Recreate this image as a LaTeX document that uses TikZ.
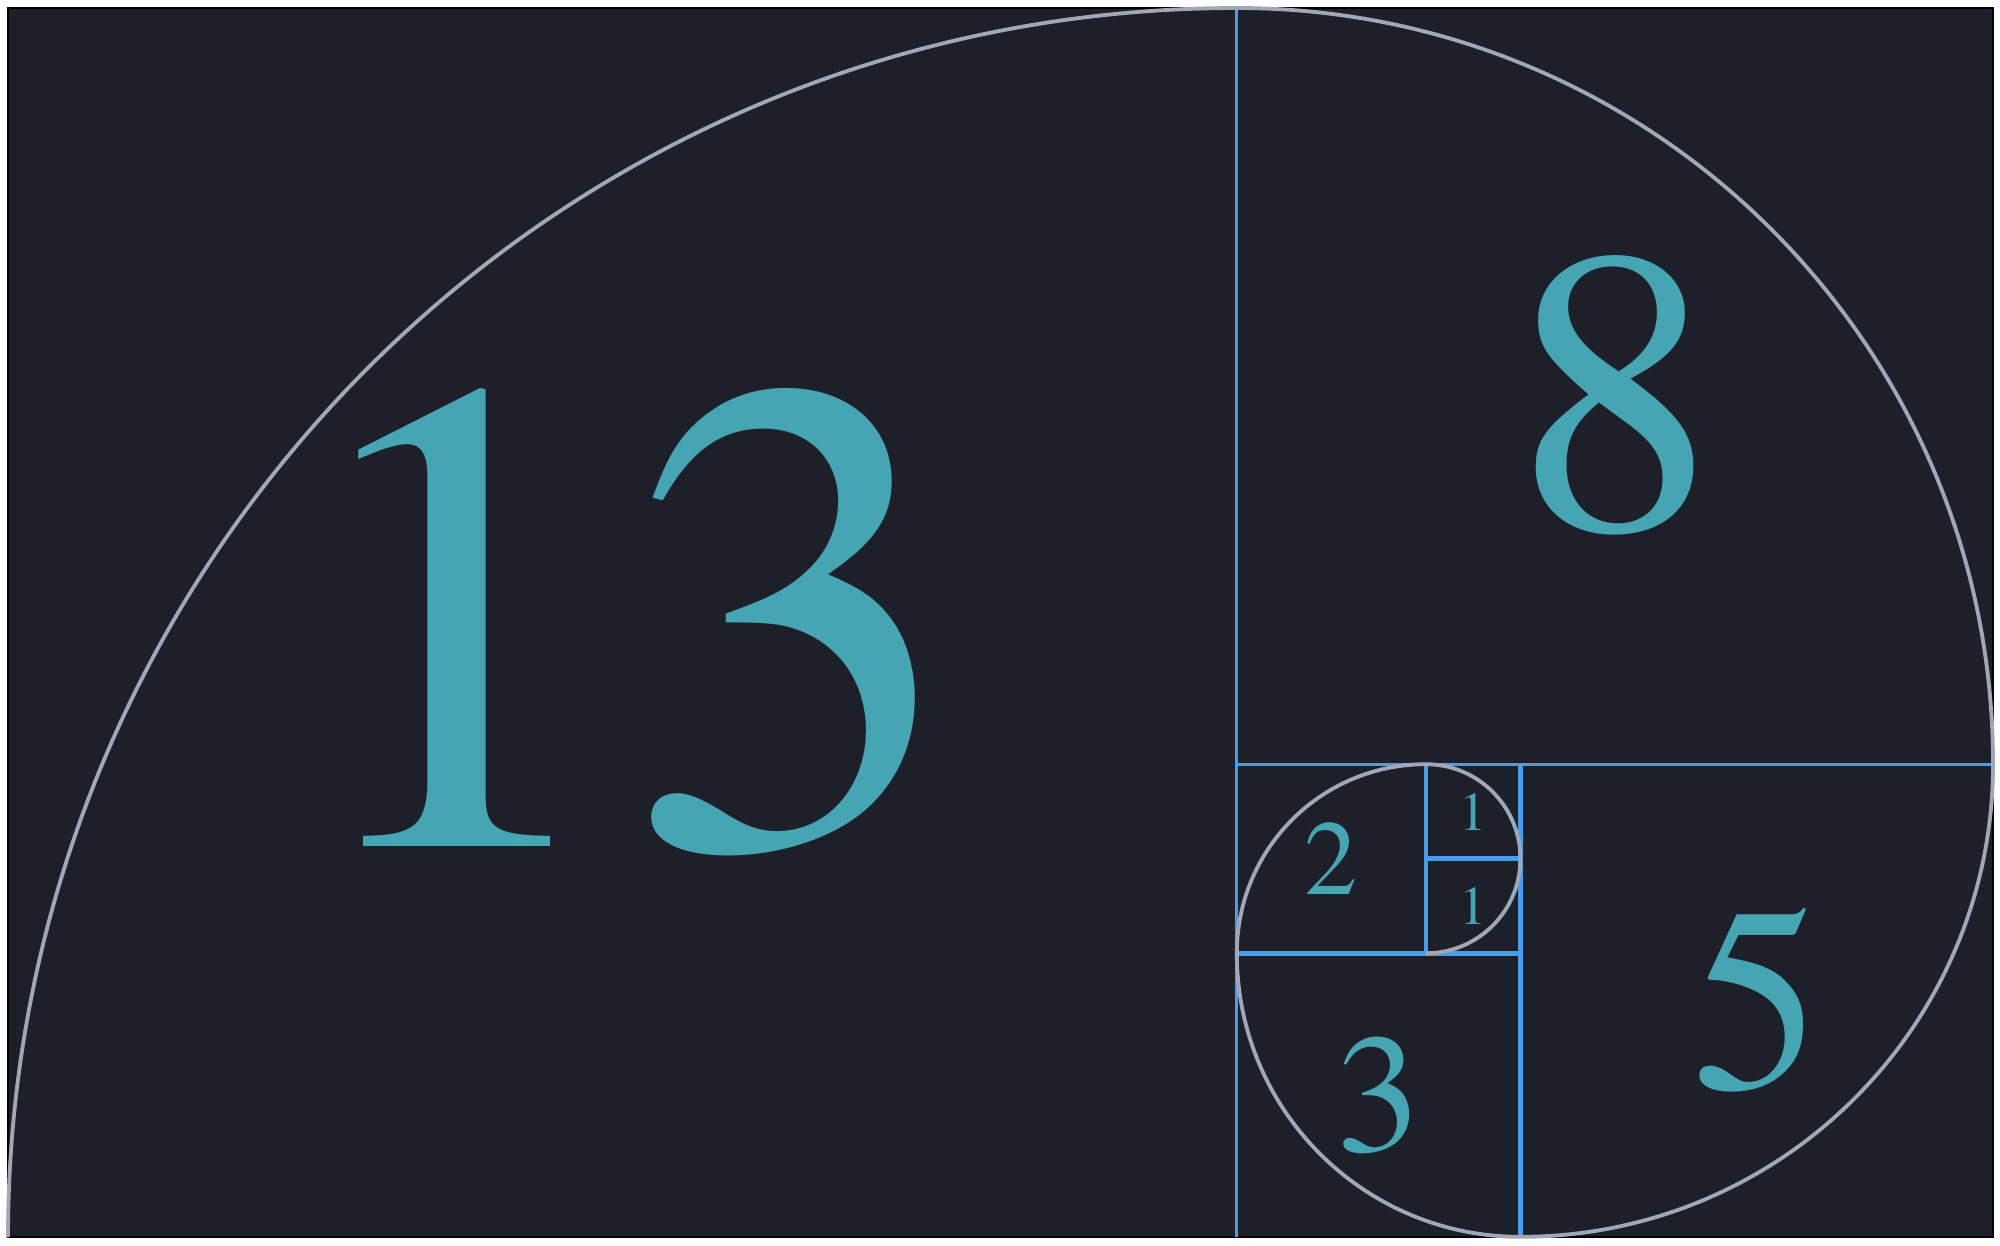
\documentclass[tikz,border=0pt]{standalone}
\usepackage{fontspec}
\setmainfont{texgyretermes-regular.otf}
\definecolor{bgdark}{HTML}{1E2029}
\definecolor{lineblue}{HTML}{4A9DEA}
\definecolor{arcgray}{HTML}{A1A7B7}
\definecolor{numteal}{HTML}{45A5B2}
\newcommand{\numsize}[1]{\fontsize{#1}{#1}\selectfont}
\begin{document}
\begin{tikzpicture}[
  thinline/.style={line width=0.9pt, draw=lineblue},
  thickline/.style={line width=1.35pt, draw=lineblue},
  spiral/.style={line width=1.15pt, draw=arcgray},
  num/.style={text=numteal, inner sep=0pt}]
\fill [white] (-0.085,-0.087) rectangle (21.074,13.085);
\useasboundingbox (-0.085,-0.087) rectangle (21.074,13.085);
\draw [fill=bgdark, draw=black, line width=0.7pt] (0,0) rectangle (21,13);
\draw [thinline] (13,0) -- (13,13);
\draw [thinline] (13,5) -- (21,5);
\draw [thickline] (16,0) -- (16,5);
\draw [thickline] (13,3) -- (16,3);
\draw [thickline] (15,3) -- (15,5);
\draw [thickline] (15,4) -- (16,4);
\draw [spiral] (0,0)
  arc [start angle=180, end angle=90, radius=13]
  arc [start angle=90, end angle=0, radius=8]
  arc [start angle=0, end angle=-90, radius=5]
  arc [start angle=-90, end angle=-180, radius=3]
  arc [start angle=180, end angle=90, radius=2]
  arc [start angle=90, end angle=0, radius=1]
  arc [start angle=0, end angle=-90, radius=1];
\node [num, font=\numsize{204pt}] (n13) at (6.5,6.5) {13};
\node [num, font=\numsize{122pt}] (n8) at (17,8.9) {8};
\node [num, font=\numsize{79pt}] (n5) at (18.5,2.5) {5};
\node [num, font=\numsize{51pt}] (n3) at (14.5,1.5) {3};
\node [num, font=\numsize{32pt}] (n2) at (14,4) {2};
\node [num, font=\numsize{16.5pt}] (n1a) at (15.5,4.5) {1};
\node [num, font=\numsize{16.5pt}] (n1b) at (15.5,3.5) {1};
\end{tikzpicture}
\end{document}
